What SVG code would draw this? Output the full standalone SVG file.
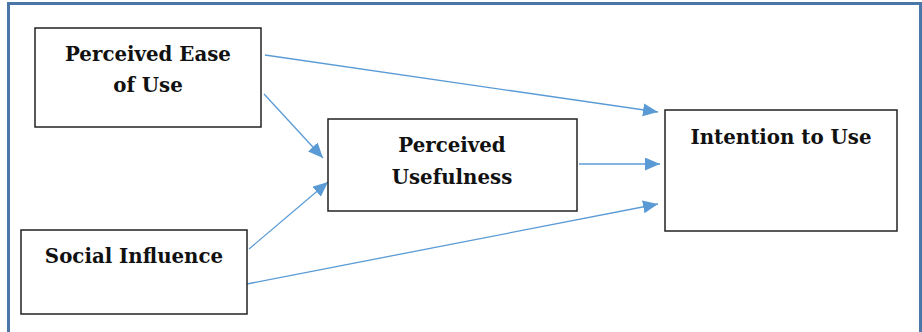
<svg xmlns="http://www.w3.org/2000/svg" width="922" height="332" viewBox="0 0 922 332">
<defs>
<marker id="ah" markerUnits="userSpaceOnUse" markerWidth="16" markerHeight="14" refX="15" refY="6.5" orient="auto">
<path d="M0,0 L15,6.5 L0,13 Z" fill="#5b9bd5"/>
</marker>
<style>
.box{fill:#fff;stroke:#222;stroke-width:1.5}
.lbl{font-family:"DejaVu Serif","Liberation Serif",serif;font-weight:bold;font-size:19.8px;fill:#111;text-anchor:middle}
.conn{stroke:#5b9bd5;stroke-width:1.3;fill:none;marker-end:url(#ah)}
</style>
</defs>
<rect width="922" height="332" fill="#fff"/>
<rect x="8.5" y="3.5" width="912" height="340" fill="none" stroke="#4a76a8" stroke-width="3"/>
<g id="connectors">
<line class="conn" x1="265" y1="55" x2="658" y2="112"/>
<line class="conn" x1="264" y1="94" x2="323" y2="158"/>
<line class="conn" x1="579" y1="164" x2="660" y2="164"/>
<line class="conn" x1="249" y1="249" x2="328" y2="182"/>
<line class="conn" x1="247" y1="284" x2="658" y2="204"/>
</g>
<g id="peu">
<rect class="box" x="35" y="28" width="226" height="99"/>
<text class="lbl" x="148" y="61">Perceived Ease</text>
<text class="lbl" x="148" y="92">of Use</text>
</g>
<g id="pu">
<rect class="box" x="328" y="119" width="249" height="92"/>
<text class="lbl" x="452" y="152">Perceived</text>
<text class="lbl" x="452" y="184">Usefulness</text>
</g>
<g id="si">
<rect class="box" x="21" y="230" width="226" height="84"/>
<text class="lbl" x="134" y="263">Social Influence</text>
</g>
<g id="itu">
<rect class="box" x="665" y="110" width="232" height="121"/>
<text class="lbl" x="781" y="144">Intention to Use</text>
</g>
</svg>
